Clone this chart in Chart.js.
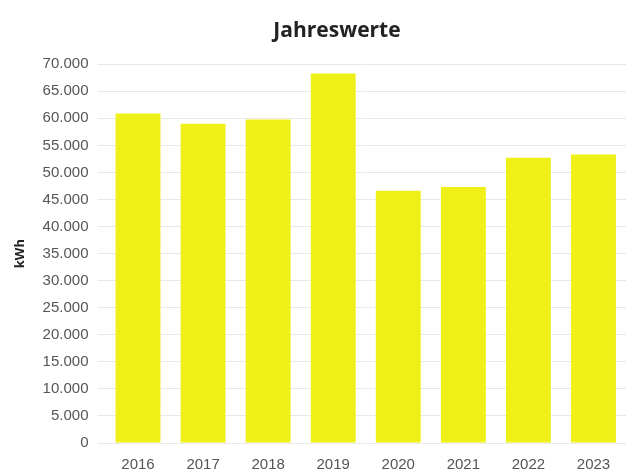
<!DOCTYPE html>
<html>
<head>
<meta charset="utf-8">
<script src="https://cdn.jsdelivr.net/npm/chart.js@4"></script>
<style>
  html, body { margin: 0; padding: 0; background: #fff; }
  #wrap { width: 627px; height: 470px; }
</style>
</head>
<body>
<div id="wrap"><canvas id="chart"></canvas></div>
<script>
const years = ["2016", "2017", "2018", "2019", "2020", "2021", "2022", "2023"];
const kwhValues = [60900, 59000, 59800, 68300, 46600, 47300, 52700, 53300];
const yTicks = [0, 5000, 10000, 15000, 20000, 25000, 30000, 35000, 40000, 45000, 50000, 55000, 60000, 65000, 70000];

// title in the reference sits a bit right of the canvas centre
const shiftTitle = {
  id: "shiftTitle",
  afterLayout(chart) {
    const t = chart.titleBlock;
    if (t) {
      t.left += 18;
      t.right += 18;
    }
  }
};

const ctx = document.getElementById("chart").getContext("2d");
new Chart(ctx, {
  type: "bar",
  data: {
    labels: years,
    datasets: [
      {
        label: "kWh",
        data: kwhValues,
        backgroundColor: "#eef017",
        borderWidth: 0,
        barPercentage: 0.69,
        categoryPercentage: 1.0
      }
    ]
  },
  options: {
    responsive: true,
    maintainAspectRatio: false,
    animation: false,
    layout: { padding: { left: 12, right: 1, bottom: -9, top: 0 } },
    plugins: {
      legend: { display: false },
      tooltip: { enabled: false },
      title: {
        display: true,
        text: "Jahreswerte",
        color: "#222",
        font: { family: "Open Sans", size: 21, weight: "bold" },
        padding: { top: 18, bottom: 21 }
      }
    },
    scales: {
      x: {
        grid: { display: false },
        border: { display: false },
        ticks: {
          color: "#555",
          font: { family: "Liberation Sans", size: 15 },
          padding: 5
        }
      },
      y: {
        min: 0,
        max: 70000,
        afterBuildTicks(axis) {
          axis.ticks = yTicks.map((v) => ({ value: v }));
        },
        grid: { color: "#e8e8e8", tickLength: 8 },
        border: { display: false },
        ticks: {
          color: "#555",
          font: { family: "Liberation Sans", size: 15 },
          padding: 9,
          callback: (v) => v.toLocaleString("de-DE")
        },
        title: {
          display: true,
          text: "kWh",
          color: "#222",
          font: { family: "Open Sans", size: 13, weight: "bold" },
          padding: { top: 0, bottom: 6 }
        }
      }
    }
  },
  plugins: [shiftTitle]
});
</script>
</body>
</html>
